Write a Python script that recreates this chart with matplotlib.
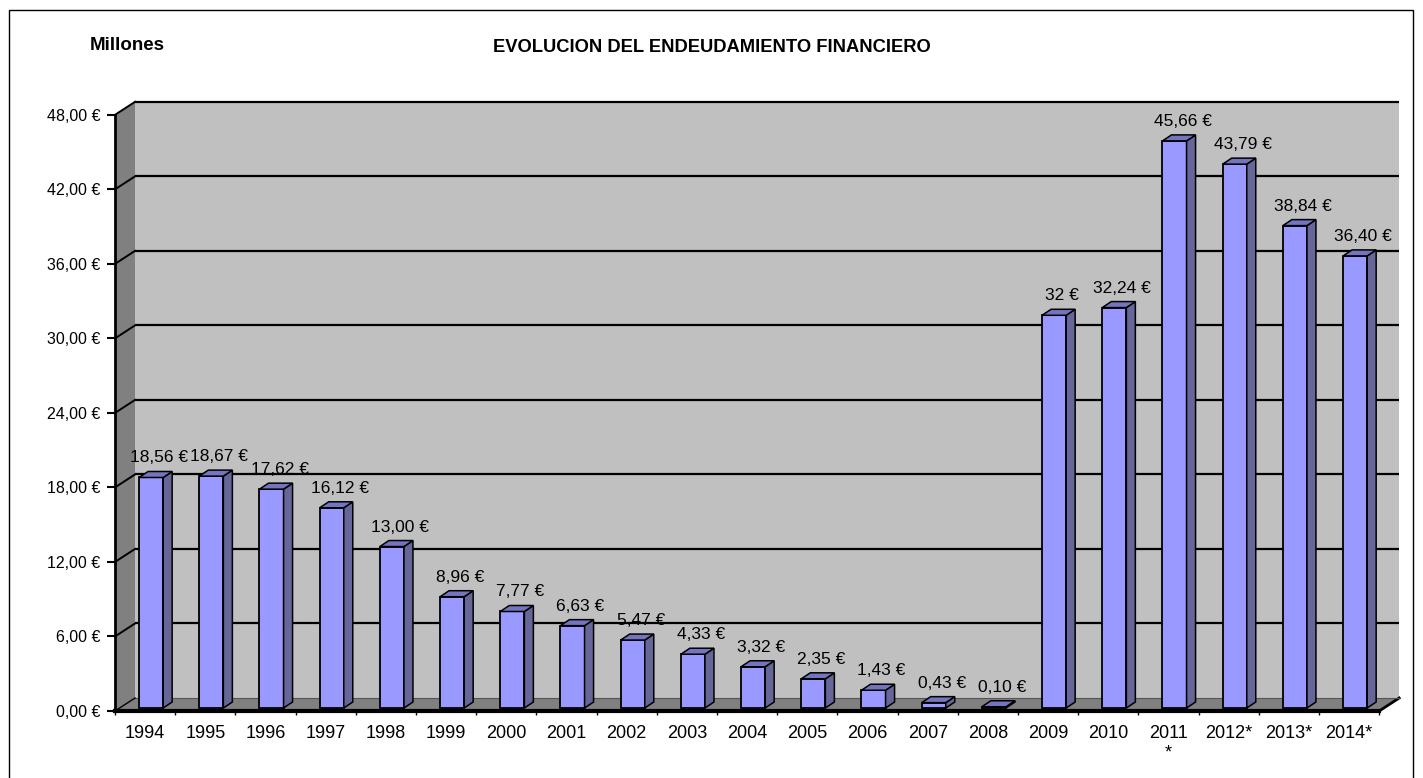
import numpy as np
import matplotlib
matplotlib.use("Agg")
import matplotlib.pyplot as plt
from matplotlib.patches import Polygon, Rectangle

# ---------------- data ----------------
categories = ["1994", "1995", "1996", "1997", "1998", "1999", "2000", "2001",
              "2002", "2003", "2004", "2005", "2006", "2007", "2008", "2009",
              "2010", "2011\n*", "2012*", "2013*", "2014*"]
values = [18.56, 18.67, 17.62, 16.12, 13.00, 8.96, 7.77, 6.63, 5.47, 4.33,
          3.32, 2.35, 1.43, 0.43, 0.10, 31.62, 32.24, 45.66, 43.79, 38.84, 36.40]
value_labels = ["18,56 €", "18,67 €", "17,62 €", "16,12 €", "13,00 €", "8,96 €",
                "7,77 €", "6,63 €", "5,47 €", "4,33 €", "3,32 €", "2,35 €",
                "1,43 €", "0,43 €", "0,10 €", "32 €", "32,24 €", "45,66 €",
                "43,79 €", "38,84 €", "36,40 €"]
y_ticks = [0, 6, 12, 18, 24, 30, 36, 42, 48]
title = "EVOLUCION DEL ENDEUDAMIENTO FINANCIERO"
unit_label = "Millones"

# ---------------- geometry / style ----------------
FW, FH = 1423, 778
SLOT_PX = 60.2          # pixels per category
UNIT_PX = 12.42         # pixels per value unit
X0_PX, Y0_PX = 115, 711 # front-left origin in image pixels (from top)
DX = 20 / SLOT_PX       # wall depth offset (category units)
DY = 13 / UNIT_PX       # wall depth offset (value units)
BDX = 9 / SLOT_PX       # bar depth
BDY = 6 / UNIT_PX
BAR_OFF = 0.4           # bar left edge within slot
BAR_W = 0.4
BAR_BASE = 3 / UNIT_PX
n = len(categories)
YMAX = 48

plt.rcParams['font.family'] = ['Liberation Sans', 'DejaVu Sans']

fig = plt.figure(figsize=(FW / 100, FH / 100), dpi=100)
fig.patch.set_facecolor('white')

ax_w = (n + DX) * SLOT_PX
ax_h = (YMAX + DY) * UNIT_PX
ax = fig.add_axes([X0_PX / FW, (FH - Y0_PX) / FH, ax_w / FW, ax_h / FH])
ax.set_xlim(0, n + DX)
ax.set_ylim(0, YMAX + DY)
ax.patch.set_visible(False)

wall_col = '#C0C0C0'
side_col = '#808080'

# back wall
ax.add_patch(Rectangle((DX, DY), n, YMAX, facecolor=wall_col, edgecolor='none',
                       zorder=0, clip_on=False))
# left wall
ax.add_patch(Polygon([(0, 0), (DX, DY), (DX, YMAX + DY), (0, YMAX)], closed=True,
                     facecolor=side_col, edgecolor='none', zorder=0, clip_on=False))
# floor
ax.add_patch(Polygon([(0, 0), (n, 0), (n + DX, DY), (DX, DY)], closed=True,
                     facecolor=side_col, edgecolor='none', zorder=0, clip_on=False))
ax.plot([n, n + DX], [0, DY], color='black', lw=2, zorder=1, clip_on=False)
ax.plot([DX, n + DX], [DY, DY], color='#555555', lw=0.8, zorder=1, clip_on=False)

# gridlines
for v in y_ticks:
    if v > 0:
        ax.plot([DX, n + DX], [v + DY, v + DY], color='black', lw=1.6, zorder=1,
                clip_on=False, solid_capstyle='butt')
    ax.plot([0, DX], [v, v + DY], color='black', lw=1.0 if v == 0 else 1.4, zorder=1,
            clip_on=False)

# bars
x = np.arange(n) + BAR_OFF + BAR_W / 2
front_col = '#9999FF'
right_col = '#666699'
top_col = '#7474C0'
ax.bar(x, values, width=BAR_W, bottom=BAR_BASE, color=front_col, edgecolor='black',
       linewidth=1.3, zorder=3, clip_on=False)
for xi, v in zip(x, values):
    xl, xr = xi - BAR_W / 2, xi + BAR_W / 2
    b, t = BAR_BASE, BAR_BASE + v
    ax.add_patch(Polygon([(xr, b), (xr + BDX, b + BDY), (xr + BDX, t + BDY), (xr, t)],
                         closed=True, facecolor=right_col, edgecolor='black',
                         linewidth=1.1, zorder=3, clip_on=False))
    ax.add_patch(Polygon([(xl, t), (xl + BDX, t + BDY), (xr + BDX, t + BDY), (xr, t)],
                         closed=True, facecolor=top_col, edgecolor='black',
                         linewidth=1.1, zorder=3, clip_on=False))

# value labels
for xi, v, lab in zip(x, values, value_labels):
    ax.text(xi + 8 / SLOT_PX, BAR_BASE + v + BDY + 6 / UNIT_PX, lab,
            ha='center', va='bottom', fontsize=12.5, color='black', zorder=5)

# axes / ticks
for s in ['top', 'right']:
    ax.spines[s].set_visible(False)
ax.spines['left'].set_bounds(0, YMAX)
ax.spines['left'].set_linewidth(2)
ax.spines['bottom'].set_bounds(0, n)
ax.spines['bottom'].set_linewidth(3)
ax.spines['left'].set_zorder(4)
ax.spines['bottom'].set_zorder(4)

ax.set_yticks(y_ticks)
ax.set_yticklabels([f"{v:.2f}".replace('.', ',') + " €" for v in y_ticks])
ax.tick_params(axis='y', length=5.5, width=1.5, pad=5, labelsize=11.5)

ax.set_xticks(np.arange(n) + 0.5)
ax.set_xticklabels(categories)
ax.set_xticks(np.arange(n + 1), minor=True)
ax.tick_params(axis='x', which='major', length=0, pad=10, labelsize=13)
ax.tick_params(axis='x', which='minor', length=3, width=1)

# titles
fig.text(712 / FW, 1 - 48 / FH, title, ha='center', va='center',
         fontsize=13.2, fontweight='bold')
fig.text(90 / FW, 1 - 45 / FH, unit_label, ha='left', va='center',
         fontsize=13.5, fontweight='bold')

# outer border
fig.patches.append(Rectangle((9 / FW, -0.05), (1413 - 9) / FW, 1.05 - 10 / FH,
                             transform=fig.transFigure, fill=False,
                             edgecolor='black', linewidth=1, figure=fig))

fig.savefig('out.png', dpi=100)
